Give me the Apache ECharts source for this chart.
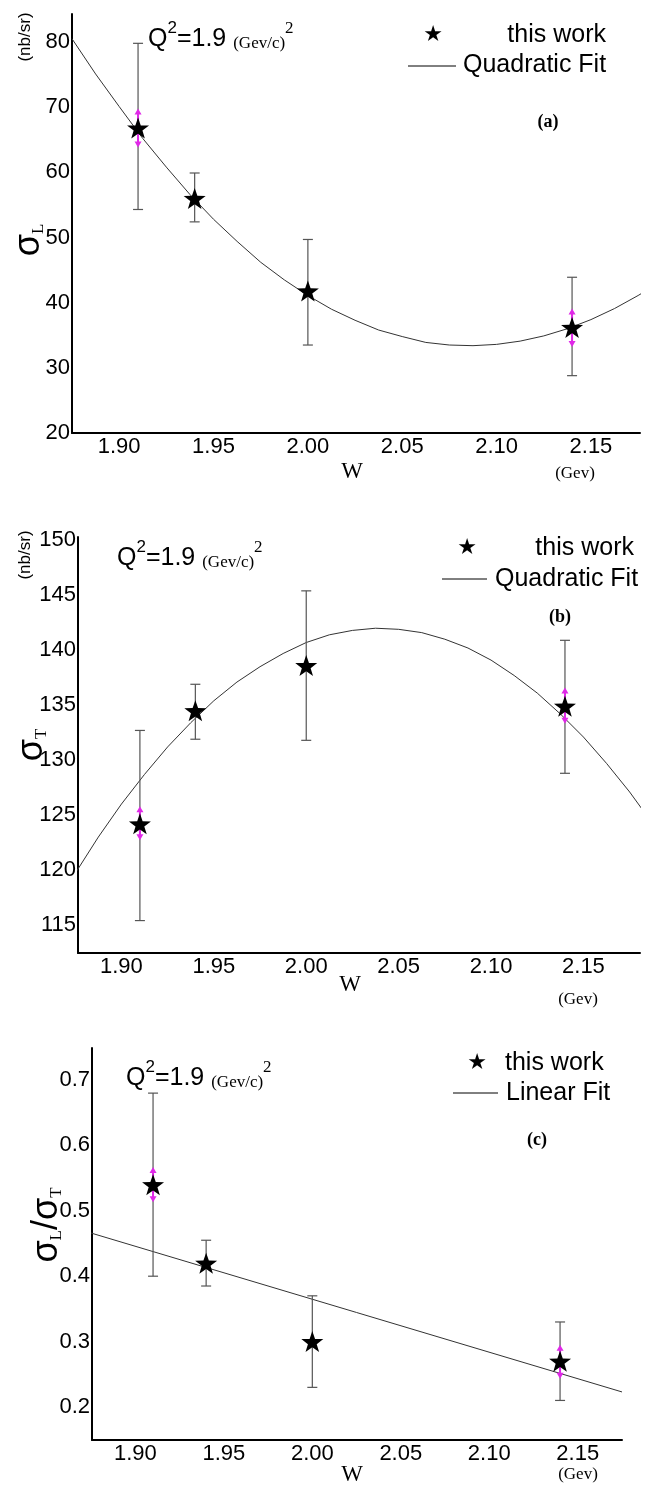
<!DOCTYPE html>
<html>
<head>
<meta charset="utf-8">
<script src="https://cdn.jsdelivr.net/npm/echarts@6.0.0/dist/echarts.min.js"></script>
<style>
html, body { margin: 0; padding: 0; background: #fff; }
#main { width: 665px; height: 1488px; }
</style>
</head>
<body>
<div id="main"></div>
<script>
// measured points (W in GeV)
var W = [1.91, 1.94, 2.00, 2.14];
var sysW = [1.91, 2.14];
var xTicks = [1.90, 1.95, 2.00, 2.05, 2.10, 2.15];

// (a) sigma_L, nb/sr
var sigL = [66.8, 56.0, 41.8, 36.2];
var sigLLo = [54.3, 52.4, 33.5, 28.8];
var sigLHi = [79.8, 59.9, 49.7, 43.9];
var sigLSysLo = [63.8, 33.2];
var sigLSysHi = [69.8, 39.1];
var yTicksA = [20, 30, 40, 50, 60, 70, 80];

// (b) sigma_T, nb/sr
var sigT = [124.2, 134.5, 138.6, 134.9];
var sigTLo = [115.4, 131.9, 131.8, 128.8];
var sigTHi = [132.7, 136.9, 145.4, 140.9];
var sigTSysLo = [122.7, 133.3];
var sigTSysHi = [125.8, 136.6];
var yTicksB = [115, 120, 125, 130, 135, 140, 145, 150];

// (c) sigma_L / sigma_T
var ratio = [0.54, 0.42, 0.30, 0.27];
var ratioLo = [0.40, 0.385, 0.23, 0.21];
var ratioHi = [0.68, 0.455, 0.37, 0.33];
var ratioSysLo = [0.513, 0.243];
var ratioSysHi = [0.567, 0.295];
var yTicksC = [0.2, 0.3, 0.4, 0.5, 0.6, 0.7];

// fit curves
var fitW = [1.875, 1.8875, 1.90, 1.9125, 1.925, 1.9375, 1.95, 1.9625, 1.975, 1.9875,
  2.00, 2.0125, 2.025, 2.0375, 2.05, 2.0625, 2.075, 2.0875, 2.10, 2.1125,
  2.125, 2.1375, 2.15, 2.1625, 2.175, 2.1875];
var fitA = [80.5, 75.1, 70.1, 65.2, 60.8, 56.6, 52.8, 49.4, 46.2, 43.5,
  41.1, 39.0, 37.3, 35.8, 34.8, 33.9, 33.5, 33.4, 33.6, 34.1,
  34.9, 36.0, 37.4, 39.1, 41.1, 43.3];
var fitB = [119.7, 123.0, 126.0, 128.7, 131.2, 133.4, 135.4, 137.1, 138.5, 139.7,
  140.7, 141.4, 141.8, 142.0, 141.9, 141.6, 141.0, 140.2, 139.1, 137.7,
  136.1, 134.2, 132.1, 129.7, 127.1, 124.2];
var fitCW = [1.875, 2.175];
var fitC = [0.466, 0.223];

var STAR = 'path://M0,-10L2.35,-3.24L9.51,-3.09L3.8,1.24L5.88,8.09L0,4L-5.88,8.09L-3.8,1.24L-9.51,-3.09L-2.35,-3.24Z';
var SANS = 'Liberation Sans';
var SERIF = 'Liberation Serif';

function zip(a, b, c) {
  return a.map(function (v, i) { return c ? [v, b[i], c[i]] : [v, b[i]]; });
}

function errBars(idx, lo, hi) {
  return {
    type: 'custom', xAxisIndex: idx, yAxisIndex: idx, z: 2,
    encode: { x: 0, y: [1, 2] },
    data: zip(W, lo, hi),
    renderItem: function (params, api) {
      var x = api.value(0);
      var a = api.coord([x, api.value(1)]);
      var b = api.coord([x, api.value(2)]);
      var st = { stroke: '#555', lineWidth: 1.2 };
      return {
        type: 'group', children: [
          { type: 'line', shape: { x1: a[0], y1: a[1], x2: b[0], y2: b[1] }, style: st },
          { type: 'line', shape: { x1: a[0] - 5, y1: a[1], x2: a[0] + 5, y2: a[1] }, style: st },
          { type: 'line', shape: { x1: b[0] - 5, y1: b[1], x2: b[0] + 5, y2: b[1] }, style: st }
        ]
      };
    }
  };
}

function sysArrows(idx, lo, hi) {
  return {
    type: 'custom', xAxisIndex: idx, yAxisIndex: idx, z: 3,
    encode: { x: 0, y: [1, 2] },
    data: zip(sysW, lo, hi),
    renderItem: function (params, api) {
      var x = api.value(0);
      var a = api.coord([x, api.value(1)]);
      var b = api.coord([x, api.value(2)]);
      var c = '#e028e8';
      return {
        type: 'group', children: [
          { type: 'line', shape: { x1: a[0], y1: a[1] - 5, x2: b[0], y2: b[1] + 5 }, style: { stroke: c, lineWidth: 2 } },
          { type: 'polygon', shape: { points: [[b[0] - 3.5, b[1] + 6], [b[0] + 3.5, b[1] + 6], [b[0], b[1]]] }, style: { fill: c } },
          { type: 'polygon', shape: { points: [[a[0] - 3.5, a[1] - 6], [a[0] + 3.5, a[1] - 6], [a[0], a[1]]] }, style: { fill: c } }
        ]
      };
    }
  };
}

function stars(idx, vals) {
  return {
    type: 'scatter', xAxisIndex: idx, yAxisIndex: idx, z: 4,
    symbol: STAR, symbolSize: [22, 21],
    itemStyle: { color: '#000', opacity: 1 },
    data: zip(W, vals)
  };
}

function fitLine(idx, xs, vals) {
  return {
    type: 'line', xAxisIndex: idx, yAxisIndex: idx, z: 1,
    smooth: false, showSymbol: false, clip: true,
    lineStyle: { color: '#333', width: 1 },
    data: zip(xs, vals)
  };
}

function xAxis(idx, min, max) {
  return {
    type: 'value', gridIndex: idx, min: min, max: max,
    axisLine: { show: true, onZero: false, lineStyle: { color: '#000', width: 2 } },
    axisTick: { show: false }, splitLine: { show: false },
    axisLabel: {
      customValues: xTicks, margin: 3, color: '#000', fontFamily: SANS, fontSize: 22,
      formatter: function (v) { return v.toFixed(2); }
    }
  };
}

function yAxis(idx, min, max, ticks, dec) {
  return {
    type: 'value', gridIndex: idx, min: min, max: max,
    axisLine: { show: true, onZero: false, lineStyle: { color: '#000', width: 2 } },
    axisTick: { show: false }, splitLine: { show: false },
    axisLabel: {
      customValues: ticks, margin: 2, color: '#000', fontFamily: SANS, fontSize: 22,
      formatter: function (v) { return v.toFixed(dec); }
    }
  };
}

function txt(x, y, text, font, opts) {
  opts = opts || {};
  return {
    type: 'text', x: x, y: y, rotation: opts.rot || 0, z: 10,
    style: {
      text: text, font: font, fill: '#000',
      align: opts.align || 'center', verticalAlign: 'middle',
      rich: opts.rich
    }
  };
}

function hline(x1, x2, y) {
  return { type: 'line', z: 10, shape: { x1: x1, y1: y, x2: x2, y2: y }, style: { stroke: '#000', lineWidth: 1 } };
}

var qRich = {
  q: { fontFamily: SANS, fontSize: 25, lineHeight: 32, verticalAlign: 'bottom' },
  s: { fontFamily: SANS, fontSize: 17, lineHeight: 32, verticalAlign: 'top' },
  g: { fontFamily: SERIF, fontSize: 17, lineHeight: 32, verticalAlign: 'bottom' },
  gs: { fontFamily: SERIF, fontSize: 17, lineHeight: 32, verticalAlign: 'top' }
};
var qText = '{q|Q}{s|2}{q|=1.9 }{g|(Gev/c)}{gs|2}';

var sigRich = {
  s: { fontFamily: SANS, fontSize: 36, lineHeight: 40, verticalAlign: 'bottom' },
  b: { fontFamily: SERIF, fontSize: 17, lineHeight: 40, verticalAlign: 'bottom' }
};

var chart = echarts.init(document.getElementById('main'));
chart.setOption({
  animation: false,
  backgroundColor: '#fff',
  grid: [
    { left: 72, top: 14, width: 568, height: 419 },
    { left: 78, top: 537, width: 562, height: 416 },
    { left: 92, top: 1048, width: 530, height: 392 }
  ],
  xAxis: [xAxis(0, 1.875, 2.176), xAxis(1, 1.8765, 2.1806), xAxis(2, 1.8755, 2.175)],
  yAxis: [
    yAxis(0, 20, 84.3, yTicksA, 0),
    yAxis(1, 112.45, 150.3, yTicksB, 0),
    yAxis(2, 0.1495, 0.749, yTicksC, 1)
  ],
  series: [
    fitLine(0, fitW, fitA), errBars(0, sigLLo, sigLHi), sysArrows(0, sigLSysLo, sigLSysHi), stars(0, sigL),
    fitLine(1, fitW, fitB), errBars(1, sigTLo, sigTHi), sysArrows(1, sigTSysLo, sigTSysHi), stars(1, sigT),
    fitLine(2, fitCW, fitC), errBars(2, ratioLo, ratioHi), sysArrows(2, ratioSysLo, ratioSysHi), stars(2, ratio)
  ],
  graphic: [
    // (a)
    txt(25, 37, '(nb/sr)', '17px ' + SANS, { rot: Math.PI / 2 }),
    txt(27, 240, '{s|σ}{b|L}', '', { rot: Math.PI / 2, rich: sigRich }),
    txt(148, 36, qText, '', { align: 'left', rich: qRich }),
    txt(433, 35, '★', '22px DejaVu Sans'),
    txt(606, 35, 'this work', '25px ' + SANS, { align: 'right' }),
    hline(408, 456, 66),
    txt(463, 65, 'Quadratic Fit', '25px ' + SANS, { align: 'left' }),
    txt(548, 122, '(a)', 'bold 18px ' + SERIF),
    txt(352, 472, 'W', '23px ' + SERIF),
    txt(575, 474, '(Gev)', '17px ' + SERIF),
    // (b)
    txt(25, 555, '(nb/sr)', '17px ' + SANS, { rot: Math.PI / 2 }),
    txt(30, 745, '{s|σ}{b|T}', '', { rot: Math.PI / 2, rich: sigRich }),
    txt(117, 555, qText, '', { align: 'left', rich: qRich }),
    txt(467, 548, '★', '22px DejaVu Sans'),
    txt(634, 548, 'this work', '25px ' + SANS, { align: 'right' }),
    hline(442, 487, 579),
    txt(495, 579, 'Quadratic Fit', '25px ' + SANS, { align: 'left' }),
    txt(560, 617, '(b)', 'bold 18px ' + SERIF),
    txt(350, 985, 'W', '23px ' + SERIF),
    txt(578, 1000, '(Gev)', '17px ' + SERIF),
    // (c)
    txt(45, 1225, '{s|σ}{b|L}{s|/σ}{b|T}', '', { rot: Math.PI / 2, rich: sigRich }),
    txt(126, 1075, qText, '', { align: 'left', rich: qRich }),
    txt(477, 1063, '★', '22px DejaVu Sans'),
    txt(505, 1063, 'this work', '25px ' + SANS, { align: 'left' }),
    hline(453, 498, 1093),
    txt(506, 1093, 'Linear Fit', '25px ' + SANS, { align: 'left' }),
    txt(537, 1140, '(c)', 'bold 18px ' + SERIF),
    txt(352, 1475, 'W', '23px ' + SERIF),
    txt(578, 1475, '(Gev)', '17px ' + SERIF)
  ]
});
</script>
</body>
</html>
